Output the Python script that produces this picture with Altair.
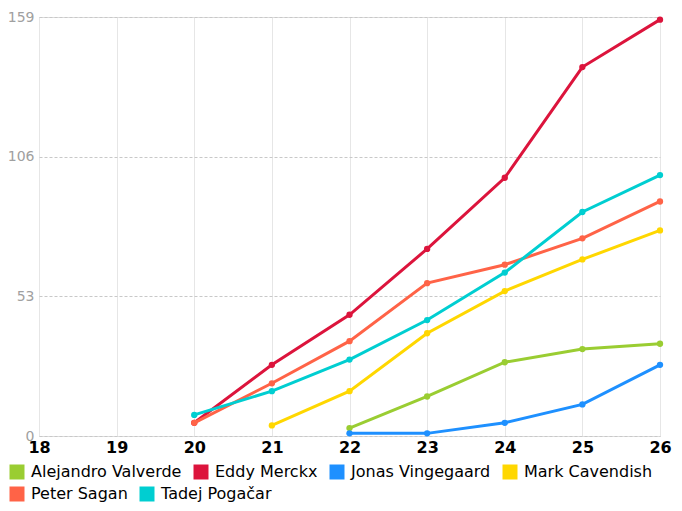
import altair as alt
import pandas as pd

riders = ["Alejandro Valverde", "Eddy Merckx", "Jonas Vingegaard",
          "Mark Cavendish", "Peter Sagan", "Tadej Pogačar"]
colors = ["#9ACD32", "#DC143C", "#1E90FF", "#FFD700", "#FF6347", "#00CED1"]

ages_valverde = [22, 23, 24, 25, 26]
wins_valverde = [3, 15, 28, 33, 35]
ages_merckx = [20, 21, 22, 23, 24, 25, 26]
wins_merckx = [5, 27, 46, 71, 98, 140, 158]
ages_vingegaard = [22, 23, 24, 25, 26]
wins_vingegaard = [1, 1, 5, 12, 27]
ages_cavendish = [21, 22, 23, 24, 25, 26]
wins_cavendish = [4, 17, 39, 55, 67, 78]
ages_sagan = [20, 21, 22, 23, 24, 25, 26]
wins_sagan = [5, 20, 36, 58, 65, 75, 89]
ages_pogacar = [20, 21, 22, 23, 24, 25, 26]
wins_pogacar = [8, 17, 29, 44, 62, 85, 99]

x_ticks = [18, 19, 20, 21, 22, 23, 24, 25, 26]
y_ticks = [0, 53, 106, 159]

series = [
    (riders[0], ages_valverde, wins_valverde),
    (riders[1], ages_merckx, wins_merckx),
    (riders[2], ages_vingegaard, wins_vingegaard),
    (riders[3], ages_cavendish, wins_cavendish),
    (riders[4], ages_sagan, wins_sagan),
    (riders[5], ages_pogacar, wins_pogacar),
]
rows = []
for name, ages, wins in series:
    for a, w in zip(ages, wins):
        rows.append({"rider": name, "age": a, "wins": w})
df = pd.DataFrame(rows)

FONT = "DejaVu Sans"

x = alt.X("age:Q", title=None,
          scale=alt.Scale(domain=[18, 26], nice=False, zero=False),
          axis=alt.Axis(values=x_ticks, format="d", labelFont=FONT, labelFontSize=16,
                        labelFontWeight="bold", labelColor="#000000", labelPadding=3,
                        ticks=False, domain=False, grid=True, gridColor="#e6e6e6",
                        gridWidth=1, labelFlush=False))
y = alt.Y("wins:Q", title=None,
          scale=alt.Scale(domain=[0, 159], nice=False),
          axis=alt.Axis(values=y_ticks, labelFont=FONT, labelFontSize=14,
                        labelColor="#a0a0a0", labelPadding=5, ticks=False, domain=False,
                        grid=True, gridColor="#c8c8c8", gridDash=[3, 2], gridWidth=1,
                        labelFlush=False))


def legend(ly):
    return alt.Legend(orient="none", legendX=-30, legendY=ly,
                      direction="horizontal",
                      symbolType="square", symbolSize=225,
                      symbolStrokeWidth=0, symbolOpacity=1,
                      labelFont=FONT, labelFontSize=16, labelColor="#000000",
                      columnPadding=11, labelOffset=6, labelLimit=300)


def group(names, cols, ly):
    sub = df[df["rider"].isin(names)]
    color = alt.Color("rider:N", title=None,
                      scale=alt.Scale(domain=names, range=cols),
                      legend=legend(ly))
    base = alt.Chart(sub).encode(x=x, y=y, color=color, detail="rider:N")
    return alt.layer(base.mark_line(strokeWidth=3),
                     base.mark_point(filled=True, size=40, opacity=1))


g1 = group(riders[:4], colors[:4], 447)
g2 = group(riders[4:], colors[4:], 469)

chart = alt.layer(g1, g2).resolve_scale(color="independent").properties(
    width=621, height=419,
    autosize=alt.AutoSizeParams(type="none"),
    padding={"left": 31, "top": 9, "right": 14, "bottom": 67},
).configure_view(stroke=None).configure(background="#ffffff")

chart.save("out.html", embed_options={"renderer": "svg", "actions": False})
